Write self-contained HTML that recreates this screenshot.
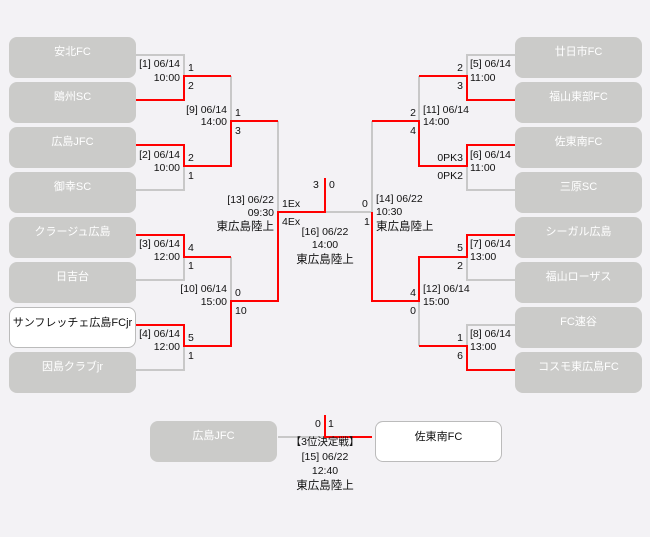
<!DOCTYPE html>
<html><head><meta charset="utf-8"><style>
body{margin:0;background:#f3f2f5;width:650px;height:537px;position:relative;overflow:hidden;font-family:"Liberation Sans","Noto Sans CJK JP",sans-serif;font-size:10.5px;color:#111}
.b{position:absolute;width:127px;height:41px;border-radius:8px;background:#cbcbc9;color:#fff;text-align:center;box-sizing:border-box;padding-top:6px;font-size:11px}
.w{background:#fff;border:1px solid #bbb;color:#111}
.t{position:absolute;line-height:14px;white-space:nowrap}
.r{text-align:right}
.c{text-align:center}
.big{font-size:11.5px}
svg{position:absolute;left:0;top:0}
</style></head><body>
<div class="b" style="left:9px;top:37px">安北FC</div>
<div class="b" style="left:9px;top:82px">鴎州SC</div>
<div class="b" style="left:9px;top:127px">広島JFC</div>
<div class="b" style="left:9px;top:172px">御幸SC</div>
<div class="b" style="left:9px;top:217px">クラージュ広島</div>
<div class="b" style="left:9px;top:262px">日吉台</div>
<div class="b w" style="left:9px;top:307px">サンフレッチェ広島FCjr</div>
<div class="b" style="left:9px;top:352px">因島クラブjr</div>
<div class="b" style="left:515px;top:37px">廿日市FC</div>
<div class="b" style="left:515px;top:82px">福山東部FC</div>
<div class="b" style="left:515px;top:127px">佐東南FC</div>
<div class="b" style="left:515px;top:172px">三原SC</div>
<div class="b" style="left:515px;top:217px">シーガル広島</div>
<div class="b" style="left:515px;top:262px">福山ローザス</div>
<div class="b" style="left:515px;top:307px">FC速谷</div>
<div class="b" style="left:515px;top:352px">コスモ東広島FC</div>
<div class="b" style="left:150px;top:421px">広島JFC</div>
<div class="b w" style="left:375px;top:421px">佐東南FC</div>
<svg width="650" height="537" fill="none" stroke-width="2">
<g stroke="#c8c8c8">
<path d="M136 55H184V76"/><path d="M136 190H184V166"/><path d="M231 76V121"/>
<path d="M136 280H184V257"/><path d="M136 370H184V346"/><path d="M231 257V301"/>
<path d="M278 121V212"/><path d="M325 212H372"/><path d="M372 121V212"/>
<path d="M515 55H467V76"/><path d="M515 190H467V166"/><path d="M419 76V121"/>
<path d="M515 280H467V257"/><path d="M515 325H467V346"/><path d="M419 301V346"/>
<path d="M278 437H325"/>
</g>
<g stroke="#f00">
<path d="M136 100H184V76H231"/><path d="M136 145H184V166H231V121H278"/>
<path d="M136 235H184V257H231"/><path d="M136 325H184V346H231V301H278V212H325V178"/>
<path d="M515 100H467V76H419"/><path d="M515 145H467V166H419V121H372"/>
<path d="M515 235H467V257H419V301H372V212"/><path d="M515 370H467V346H419"/>
<path d="M325 415V437H372"/>
</g>
</svg>
<div class="t r" style="right:470px;top:57px">[1] 06/14</div><div class="t r" style="right:470px;top:71px">10:00</div>
<div class="t" style="left:188px;top:61px">1</div><div class="t" style="left:188px;top:79px">2</div>
<div class="t r" style="right:423px;top:103px">[9] 06/14</div><div class="t r" style="right:423px;top:115px">14:00</div>
<div class="t" style="left:235px;top:106px">1</div><div class="t" style="left:235px;top:124px">3</div>
<div class="t r" style="right:470px;top:148px">[2] 06/14</div><div class="t r" style="right:470px;top:161px">10:00</div>
<div class="t" style="left:188px;top:151px">2</div><div class="t" style="left:188px;top:169px">1</div>
<div class="t r" style="right:376px;top:193px">[13] 06/22</div><div class="t r" style="right:376px;top:206px">09:30</div>
<div class="t r big" style="right:376px;top:220px">東広島陸上</div>
<div class="t" style="left:282px;top:197px">1Ex</div><div class="t" style="left:282px;top:215px">4Ex</div>
<div class="t" style="left:313px;top:178px">3</div><div class="t" style="left:329px;top:178px">0</div>
<div class="t c" style="left:275px;width:100px;top:225px">[16] 06/22</div>
<div class="t c" style="left:275px;width:100px;top:238px">14:00</div>
<div class="t c big" style="left:275px;width:100px;top:253px">東広島陸上</div>
<div class="t" style="left:362px;top:197px">0</div><div class="t" style="left:364px;top:215px">1</div>
<div class="t" style="left:376px;top:192px">[14] 06/22</div><div class="t" style="left:376px;top:205px">10:30</div>
<div class="t big" style="left:376px;top:220px">東広島陸上</div>
<div class="t r" style="right:470px;top:237px">[3] 06/14</div><div class="t r" style="right:470px;top:250px">12:00</div>
<div class="t" style="left:188px;top:241px">4</div><div class="t" style="left:188px;top:259px">1</div>
<div class="t r" style="right:423px;top:282px">[10] 06/14</div><div class="t r" style="right:423px;top:295px">15:00</div>
<div class="t" style="left:235px;top:286px">0</div><div class="t" style="left:235px;top:304px">10</div>
<div class="t r" style="right:470px;top:327px">[4] 06/14</div><div class="t r" style="right:470px;top:340px">12:00</div>
<div class="t" style="left:188px;top:331px">5</div><div class="t" style="left:188px;top:349px">1</div>
<div class="t" style="left:470px;top:57px">[5] 06/14</div><div class="t" style="left:470px;top:71px">11:00</div>
<div class="t r" style="right:187px;top:61px">2</div><div class="t r" style="right:187px;top:79px">3</div>
<div class="t" style="left:423px;top:103px">[11] 06/14</div><div class="t" style="left:423px;top:115px">14:00</div>
<div class="t r" style="right:234px;top:106px">2</div><div class="t r" style="right:234px;top:124px">4</div>
<div class="t" style="left:470px;top:148px">[6] 06/14</div><div class="t" style="left:470px;top:161px">11:00</div>
<div class="t r" style="right:187px;top:151px">0PK3</div><div class="t r" style="right:187px;top:169px">0PK2</div>
<div class="t" style="left:470px;top:237px">[7] 06/14</div><div class="t" style="left:470px;top:250px">13:00</div>
<div class="t r" style="right:187px;top:241px">5</div><div class="t r" style="right:187px;top:259px">2</div>
<div class="t" style="left:423px;top:282px">[12] 06/14</div><div class="t" style="left:423px;top:295px">15:00</div>
<div class="t r" style="right:234px;top:286px">4</div><div class="t r" style="right:234px;top:304px">0</div>
<div class="t" style="left:470px;top:327px">[8] 06/14</div><div class="t" style="left:470px;top:340px">13:00</div>
<div class="t r" style="right:187px;top:331px">1</div><div class="t r" style="right:187px;top:349px">6</div>
<div class="t" style="left:315px;top:417px">0</div><div class="t" style="left:328px;top:417px">1</div>
<div class="t c" style="left:265px;width:120px;top:435px">【3位決定戦】</div>
<div class="t c" style="left:265px;width:120px;top:450px">[15] 06/22</div>
<div class="t c" style="left:265px;width:120px;top:464px">12:40</div>
<div class="t c big" style="left:265px;width:120px;top:479px">東広島陸上</div>
</body></html>
